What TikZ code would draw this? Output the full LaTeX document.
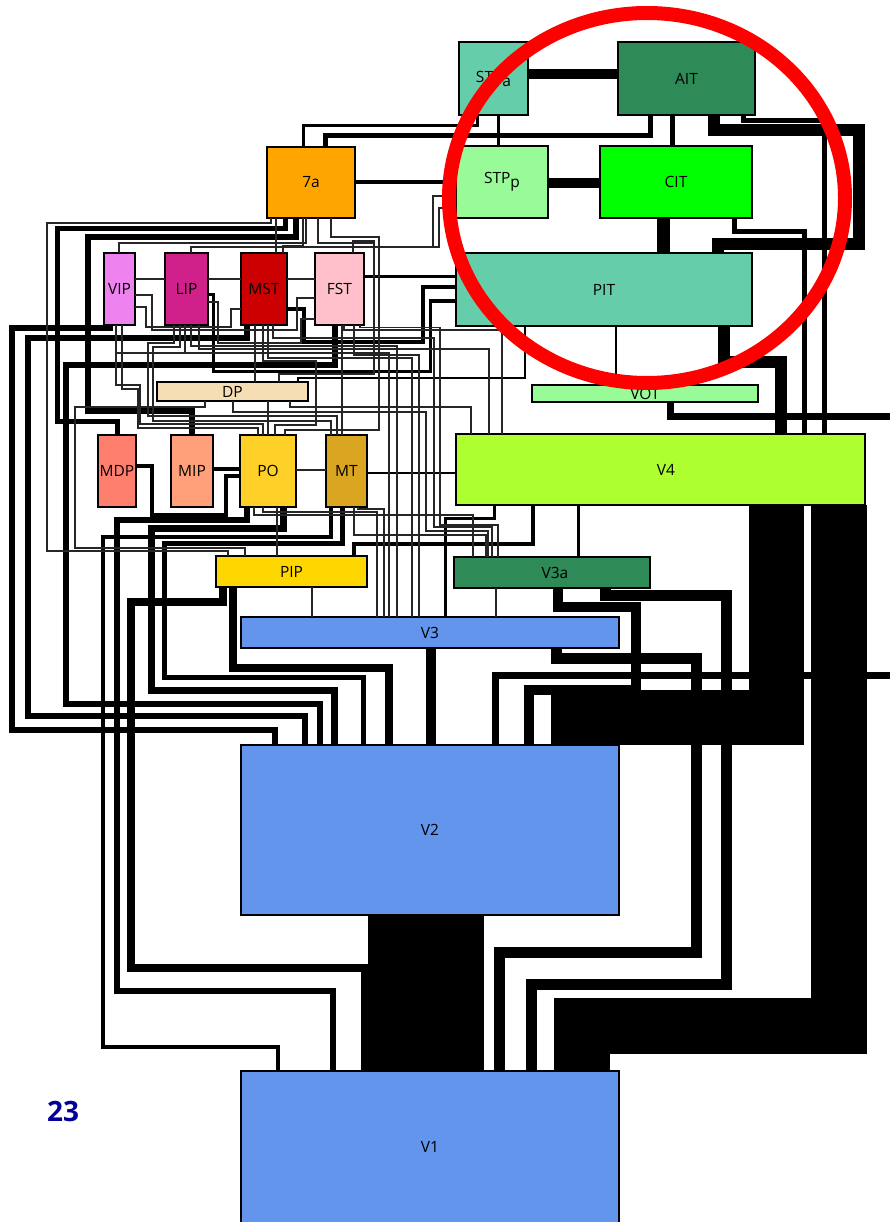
\documentclass[tikz,border=0pt]{standalone}
\usepackage{fontspec}
\setmainfont{Open Sans}
\usetikzlibrary{shapes.geometric}
\definecolor{aqua}{HTML}{66CDAA}
\definecolor{sea}{HTML}{2E8B57}
\definecolor{pale}{HTML}{98FB98}
\definecolor{corn}{HTML}{6495ED}
\newcommand{\subp}[1]{\raisebox{-4pt}{#1}}

\begin{document}
\begin{tikzpicture}[
  x=1pt,y=-1pt,
  area/.style={draw,line width=1.5,inner sep=0,outer sep=0,font=\fontsize{15.5}{18}\selectfont},
  link/.style={line width=#1},
  thinlink/.style={line width=1.4,black!85}
]
  \useasboundingbox (0,0) rectangle (890,1222);
  \node[area,fill=aqua,minimum width=69,minimum height=73] (STPa) at (493.5,78.5) {STP\subp{a}};
  \node[area,fill=sea,minimum width=137,minimum height=73] (AIT) at (686.5,78.5) {AIT};
  \node[area,fill={rgb,255:red,255;green,165;blue,0},minimum width=88,minimum height=71] (sevena) at (311,182.5) {7a};
  \node[area,fill=pale,minimum width=92,minimum height=72] (STPp) at (502,182) {STP\subp{p}};
  \node[area,fill=green,minimum width=152,minimum height=72] (CIT) at (676,182) {CIT};
  \node[area,fill=aqua,minimum width=296,minimum height=73] (PIT) at (604,289.5) {PIT};
  \node[area,fill={rgb,255:red,238;green,130;blue,238},minimum width=31,minimum height=72] (VIP) at (119.5,289) {VIP};
  \node[area,fill={rgb,255:red,208;green,32;blue,138},minimum width=43,minimum height=72] (LIP) at (186.5,289) {LIP};
  \node[area,fill={rgb,255:red,204;green,0;blue,0},minimum width=46,minimum height=72] (MST) at (264,289) {MST};
  \node[area,fill={rgb,255:red,255;green,192;blue,203},minimum width=49,minimum height=72] (FST) at (339.5,289) {FST};
  \node[area,fill={rgb,255:red,245;green,222;blue,179},minimum width=151,minimum height=19] (DP) at (232.5,391.5) {DP};
  \node[area,fill=pale,minimum width=226,minimum height=17] (VOT) at (645,393.5) {VOT};
  \node[area,fill={rgb,255:red,255;green,127;blue,111},minimum width=38,minimum height=72] (MDP) at (117,471) {MDP};
  \node[area,fill={rgb,255:red,255;green,160;blue,122},minimum width=42,minimum height=72] (MIP) at (192,471) {MIP};
  \node[area,fill={rgb,255:red,255;green,208;blue,39},minimum width=56,minimum height=72] (PO) at (268,471) {PO};
  \node[area,fill={rgb,255:red,218;green,165;blue,32},minimum width=41,minimum height=72] (MT) at (346.5,471) {MT};
  \node[area,fill={rgb,255:red,173;green,255;blue,47},minimum width=409,minimum height=71] (V4) at (660.5,469.5) {\hspace{11pt}V4};
  \node[area,fill={rgb,255:red,255;green,215;blue,0},minimum width=151,minimum height=31] (PIP) at (291.5,571.5) {PIP};
  \node[area,fill=sea,minimum width=196,minimum height=31] (V3a) at (552,572.5) {\hspace{6pt}V3a};
  \node[area,fill=corn,minimum width=378,minimum height=31] (V3) at (430,632.5) {V3};
  \node[area,fill=corn,minimum width=378,minimum height=170] (V2) at (430,830) {V2};
  \node[area,fill=corn,minimum width=378,minimum height=152] (V1) at (430,1147) {V1};

  \coordinate (eastA) at (890,675);
  \coordinate (eastB) at (890,416);

  \draw[link=116] (V2.south -| 426,0) -- (V1.north -| 426,0);
  \draw[link=56] (V4.south -| 838.5,0) |- (582,1026) -- (V1.north -| 582,0);
  \draw[link=55] (V4.south -| 776.5,0) |- (551,717.5);
  \draw[link=11] (V3a.south -| 605,0) |- (726,595) |- (531,984) -- (V1.north -| 531,0);
  \draw[link=11] (V3.south -| 556,0) |- (696,658) |- (499,952) -- (V1.north -| 499,0);
  \draw[link=10] (V3a.south -| 558,0) |- (636,607) |- (529,690) -- (V2.north -| 529,0);
  \draw[link=7] (V2.north -| 495.5,0) |- (eastA);
  \draw[link=10] (V3.south -| 431,0) -- (V2.north -| 431,0);

  \draw[link=4.5] (MT.south -| 331,0) |- (103,537) |- (278,1047) -- (V1.north -| 278,0);
  \draw[link=6] (PO.south -| 247,0) |- (117,520) |- (333,991) -- (V1.north -| 333,0);
  \draw[link=8] (PIP.south -| 223,0) |- (131,602) |- (365,968) -- (V1.north -| 365,0);
  \draw[link=7] (PO.south -| 283,0) |- (151,528) |- (334,690) -- (V2.north -| 334,0);
  \draw[link=5] (MT.south -| 342,0) |- (164,543) |- (363,677) -- (V2.north -| 363,0);
  \draw[link=8] (PIP.south -| 233,0) |- (389,668) -- (V2.north -| 389,0);
  \draw[link=6] (FST.south -| 335,0) |- (66,365) |- (320,704) -- (V2.north -| 320,0);
  \draw[link=5.5] (MST.south -| 247,0) |- (28,338) |- (305,716) -- (V2.north -| 305,0);
  \draw[link=5.5] (VIP.south -| 110,0) |- (12,328) |- (275,730) -- (V2.north -| 275,0);

  \draw[link=10] (STPa.east |- 0,74) -- (AIT.west |- 0,74);
  \draw[link=5] (AIT.south -| 672,0) -- (CIT.north -| 672,0);
  \draw[link=3] (STPa.south -| 498,0) -- (STPp.north -| 498,0);
  \draw[link=3] (STPa.south -| 477,0) |- (303,126) -- (sevena.north -| 303,0);
  \draw[link=5] (AIT.south -| 650,0) |- (325,136) -- (sevena.north -| 325,0);
  \draw[link=4] (sevena.east |- 0,182) -- (STPp.west |- 0,182);
  \draw[link=10] (STPp.east |- 0,183) -- (CIT.west |- 0,183);
  \draw[link=13] (CIT.south -| 663,0) -- (PIT.north -| 663,0);
  \draw[link=12] (AIT.south -| 714,0) |- (859,130) |- (718,244) -- (PIT.north -| 718,0);
  \draw[link=5] (AIT.south -| 743,0) |- (824,121) -- (V4.north -| 824,0);
  \draw[link=5] (CIT.south -| 734,0) |- (804,232) -- (V4.north -| 804,0);
  \draw[link=12] (PIT.south -| 723.5,0) |- (781,362) -- (V4.north -| 781,0);
  \draw[link=2] (PIT.south -| 616,0) -- (VOT.north -| 616,0);
  \draw[link=7] (VOT.south -| 670,0) |- (eastB);

  \draw[link=3] (FST.east |- 0,277) -- (PIT.west |- 0,277);
  \draw[link=3.5] (MST.east |- 0,309) -| (304,342) -| (423,287) -- (PIT.west |- 0,287);
  \draw[link=3] (LIP.east |- 0,295) -| (213,371) -| (430,301) -- (PIT.west |- 0,301);
  \draw[link=5] (sevena.south -| 285,0) |- (57,229) |- (117,421) -- (MDP.north -| 117,0);
  \draw[link=6] (sevena.south -| 296,0) |- (88,237) |- (192,411) -- (MIP.north -| 192,0);
  \draw[link=4] (MIP.east |- 0,469) -- (PO.west |- 0,469);
  \draw[link=4] (MDP.east |- 0,466) -| (152,515) -| (226,476) -- (PO.west |- 0,476);
  \draw[link=3] (V4.south -| 494,0) |- (445,518) -- (V3.north -| 445,0);
  \draw[link=4] (V4.south -| 533,0) |- (354,544) -- (PIP.north -| 354,0);
  \draw[link=3] (V4.south -| 578,0) -- (V3a.north -| 578,0);
  \draw[link=2] (MT.east |- 0,473) -- (V4.west |- 0,473);
  \draw[link=2.5] (PIT.south -| 525,0) |- (298,378) -- (DP.north -| 298,0);

  \draw[thinlink] (sevena.south -| 271,0) |- (47,223) |- (228,551) -- (PIP.north -| 228,0);
  \draw[thinlink] (sevena.south -| 276,0) -- (MST.north -| 276,0);
  \draw[thinlink] (sevena.south -| 303,0) |- (283,246) -- (MST.north -| 283,0);
  \draw[thinlink] (sevena.south -| 306,0) |- (119,243) -- (VIP.north -| 119,0);
  \draw[thinlink] (sevena.south -| 318,0) |- (374,243);
  \draw[thinlink] (sevena.south -| 331,0) |- (379,237) |- (285,430) -- (PO.north -| 285,0);
  \draw[thinlink] (LIP.north -| 191,0) |- (433,247) |- (STPp.west |- 0,196);
  \draw[thinlink] (FST.north -| 353,0) |- (374,241) |- (279,374) -- (DP.north -| 279,0);
  \draw[thinlink] (433,247) -| (439,208) -- (STPp.west |- 0,208);
  \draw[thinlink] (VIP.east |- 0,279) -- (LIP.west |- 0,279);
  \draw[thinlink] (LIP.east |- 0,279) -- (MST.west |- 0,279);
  \draw[thinlink] (MST.east |- 0,279) -- (FST.west |- 0,279);
  \draw[thinlink] (VIP.east |- 0,295) -| (152,330) -| (297,298) -- (FST.west |- 0,298);
  \draw[thinlink] (VIP.east |- 0,307) -| (146,327) -| (231,309) -- (MST.west |- 0,309);
  \draw[thinlink] (LIP.east |- 0,302) -| (218,343) -| (301,319) -- (FST.west |- 0,319);
  \draw[thinlink] (VIP.south -| 116,0) |- (389,353) -- (V3.north -| 389,0);
  \draw[thinlink] (LIP.south -| 185,0) -- (185,353);
  \draw[thinlink] (VIP.south -| 116,0) |- (140,385) |- (263,424) -- (PO.north -| 263,0);
  \draw[thinlink] (VIP.south -| 122,0) |- (138,389) |- (258,428) -- (PO.north -| 258,0);
  \draw[thinlink] (LIP.south -| 174,0) |- (148,343) |- (337,416) -- (MT.north -| 337,0);
  \draw[thinlink] (LIP.south -| 180,0) |- (153,347) |- (331,421) -- (MT.north -| 331,0);
  \draw[thinlink] (LIP.south -| 191,0) |- (397,346) -- (V3.north -| 397,0);
  \draw[thinlink] (LIP.south -| 199,0) |- (489,349) -- (V4.north -| 489,0);
  \draw[thinlink] (MST.south -| 255,0) -- (DP.north -| 255,0);
  \draw[thinlink] (MST.south -| 263,0) |- (316,361) |- (275,425) -- (PO.north -| 275,0);
  \draw[thinlink] (MST.south -| 268,0) |- (412,358) -- (V3.north -| 412,0);
  \draw[thinlink] (MST.south -| 273,0) |- (434,338) |- (492,527) -- (V3a.north -| 492,0);
  \draw[thinlink] (FST.south -| 342,0) -- (MT.north -| 342,0);
  \draw[thinlink] (FST.south -| 344,0) |- (502,330) -- (V4.north -| 502,0);
  \draw[thinlink] (FST.south -| 354,0) |- (419,355) -- (V3.north -| 419,0);
  \draw[thinlink] (FST.south -| 360,0) |- (440,327.5) |- (498,525) -- (V3a.north -| 498,0);
  \draw[thinlink] (DP.south -| 205,0) |- (75,407) |- (245,548) -- (PIP.north -| 245,0);
  \draw[thinlink] (DP.south -| 233,0) |- (426,412) |- (488,531) -- (V3a.north -| 488,0);
  \draw[thinlink] (DP.south -| 268,0) -- (PO.north -| 268,0);
  \draw[thinlink] (DP.south -| 290,0) |- (471,407) -- (V4.north -| 471,0);
  \draw[thinlink] (PO.east |- 0,470) -- (MT.west |- 0,470);
  \draw[thinlink] (PO.south -| 277,0) -- (PIP.north -| 277,0);
  \draw[thinlink] (PO.south -| 254,0) |- (473,515) -- (V3a.north -| 473,0);
  \draw[thinlink] (PO.south -| 263,0) |- (377,512) -- (V3.north -| 377,0);
  \draw[thinlink] (MT.south -| 358,0) |- (384,509) -- (V3.north -| 384,0);
  \draw[thinlink] (MT.south -| 354,0) |- (486,535) -- (V3a.north -| 486,0);
  \draw[thinlink] (PIP.south -| 312,0) -- (V3.north -| 312,0);
  \draw[thinlink] (V3a.south -| 496,0) -- (V3.north -| 496,0);

  \node[draw=red,line width=14,ellipse,inner sep=0,minimum width=396,minimum height=370] (focus) at (647,198) {};
  \node[font=\fontsize{28}{30}\selectfont\bfseries,text={rgb,255:red,0;green,0;blue,153},inner sep=0] (page) at (63,1111) {23};
\end{tikzpicture}
\end{document}
